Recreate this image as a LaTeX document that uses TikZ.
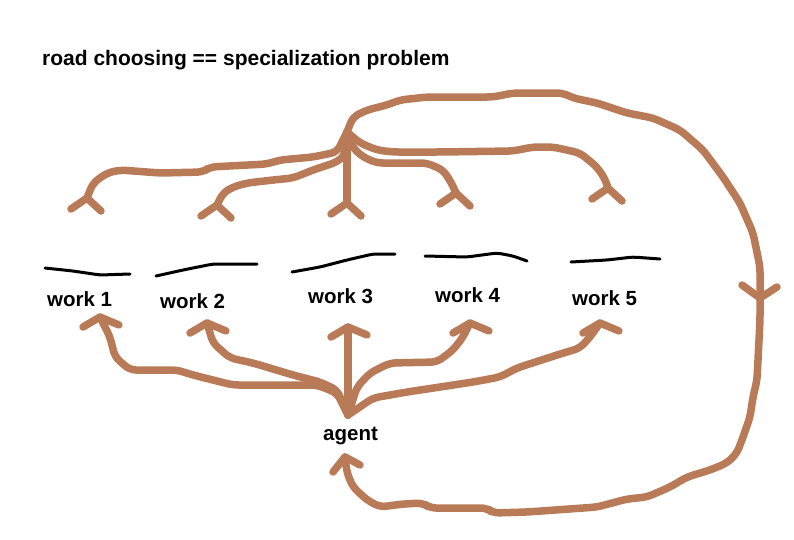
\documentclass[tikz,border=0pt]{standalone}
\usepackage{fontspec}
\setmainfont{Liberation Sans}
\definecolor{roadbrown}{RGB}{185,122,87}
\tikzset{
  road/.style={draw=roadbrown,line width=7.5pt,line cap=round,line join=round,rounded corners=6pt},
  ground/.style={draw=black,line width=3pt,line cap=round,line join=round,rounded corners=4pt},
  lbl/.style={font=\bfseries\fontsize{20.5}{24}\selectfont,inner sep=0pt,anchor=base west}
}
\begin{document}
\begin{tikzpicture}[x=1pt,y=-1pt]
\useasboundingbox[fill=white] (0,0) rectangle (794,539);
\node[lbl,font=\bfseries\fontsize{21}{24}\selectfont] (title) at (42,65) {road choosing == specialization problem};
\foreach \i/\x/\y in {1/47/306,2/160/308,3/308/303,4/435/302,5/572/305}
  \node[lbl] (w\i) at (\x,\y) {work \i};
\node[lbl] (agent) at (323,440) {agent};
% ground under the roads
\draw[ground] (45,268) -- (73,271) -- (100,275) -- (130,274);
\draw[ground] (156,276) -- (183,270) -- (213,264) -- (257,264);
\draw[ground] (292,272) -- (320,267) -- (347,260) -- (373,254) -- (395,254);
\draw[ground] (425,256) -- (467,257) -- (497,253) -- (513,256) -- (527,261);
\draw[ground] (571,262) -- (607,260) -- (633,257) -- (660,259);
% junctions
\coordinate (hub) at (347,132);
\coordinate (ag) at (348,415);
\coordinate (t1) at (87,198);
\coordinate (t2) at (217,205);
\coordinate (t3) at (347,203);
\coordinate (t4) at (456,193);
\coordinate (t5) at (608,188);
\coordinate (u1) at (100,317);
\coordinate (u2) at (207,323);
\coordinate (u3) at (348,327);
\coordinate (u4) at (470,323);
\coordinate (u5) at (600,323);
\coordinate (back) at (345,457);
% roads from the hub down to the works
\draw[road] (hub) -- (337,152) -- (313,157) -- (280,160) -- (267,164) -- (210,167) -- (203,172)
  -- (160,173) -- (147,172) -- (120,170) -- (107,173) -- (93,183) -- (t1);
\draw[road] (hub) -- (345,155) -- (337,162) -- (313,170) -- (293,178) -- (273,180) -- (247,183)
  -- (233,187) -- (223,193) -- (t2);
\draw[road] (hub) -- (t3);
\draw[road] (hub) -- (353,148) -- (363,157) -- (377,163) -- (427,163) -- (443,170) -- (451,182) -- (t4);
\draw[road] (hub) -- (360,143) -- (377,150) -- (393,152) -- (440,152) -- (513,151) -- (533,147)
  -- (553,147) -- (580,153) -- (597,167) -- (605,179) -- (t5);
\foreach \t in {t1,t2,t3,t4,t5}
  \draw[road,rounded corners=0pt] (\t) ++(-16,11) -- (\t) -- ++(14,13);
% roads from the agent up to the works
\draw[road] (ag) -- (337,393) -- (317,385) -- (233,385) -- (193,375) -- (177,370) -- (130,370)
  -- (115,357) -- (110,337) -- (u1);
\draw[road] (ag) -- (337,390) -- (320,382) -- (293,375) -- (253,363) -- (230,358) -- (213,343) -- (u2);
\draw[road] (ag) -- (u3);
\draw[road] (ag) -- (357,387) -- (370,373) -- (390,363) -- (437,362) -- (453,350) -- (463,337) -- (u4);
\draw[road] (ag) -- (373,398) -- (407,392) -- (473,382) -- (500,377) -- (517,368) -- (557,355)
  -- (580,348) -- (590,337) -- (u5);
\foreach \u in {u1,u2,u3,u4,u5}
  \draw[road,rounded corners=0pt] (\u) ++(-17,10) -- (\u) -- ++(19,8);
% way back to the agent
\draw[road] (hub) -- (353,117) -- (367,110) -- (387,105) -- (400,100) -- (427,97) -- (493,97)
  -- (513,93) -- (563,93) -- (573,98) -- (597,103) -- (627,113) -- (653,118) -- (680,130)
  -- (703,150) -- (723,177) -- (740,203) -- (753,233) -- (760,267) -- (760,320) -- (757,380)
  -- (753,397) -- (750,417) -- (743,437) -- (737,453) -- (727,463) -- (710,470) -- (687,477)
  -- (670,487) -- (647,497) -- (627,499) -- (597,507) -- (527,512) -- (493,513) -- (487,508)
  -- (430,508) -- (423,503) -- (403,504) -- (380,507) -- (367,500) -- (353,487) -- (347,473) -- (back);
\draw[road,rounded corners=0pt] (742,285) -- (760,298) -- (777,287);
\draw[road,rounded corners=0pt] (back) ++(-12,15) -- (back) -- ++(15,8);
\end{tikzpicture}
\end{document}
